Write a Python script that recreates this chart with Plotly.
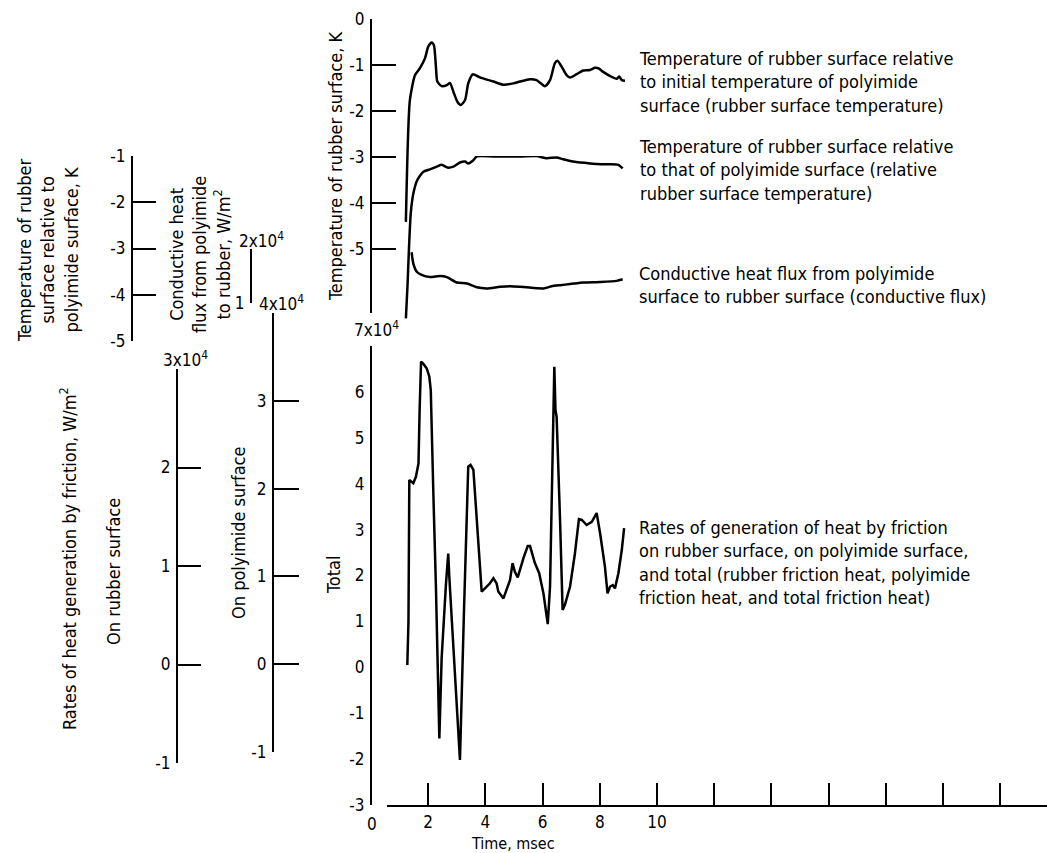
import plotly.graph_objects as go

W, H = 1047, 853

# ---------------- data ----------------
# Rubber surface temperature relative to initial polyimide temperature, K
t_rubber_temp = [1.22, 1.36, 1.54, 1.71, 1.89, 2.00, 2.12, 2.20, 2.27, 2.32, 2.47, 2.67, 2.76, 2.88,
                 3.02, 3.14, 3.29, 3.40, 3.56, 3.81, 4.28, 4.63, 4.98, 5.21, 5.56, 5.79, 6.08, 6.26,
                 6.43, 6.52, 6.67, 6.84, 6.96, 7.19, 7.42, 7.66, 7.83, 7.95, 8.12, 8.36, 8.59, 8.68,
                 8.77, 8.88]
rubber_temp = [-4.41, -1.76, -1.22, -1.07, -0.85, -0.60, -0.51, -0.57, -1.04, -1.36, -1.46, -1.43,
               -1.39, -1.58, -1.80, -1.87, -1.76, -1.40, -1.20, -1.27, -1.36, -1.43, -1.40, -1.36,
               -1.31, -1.33, -1.46, -1.33, -0.96, -0.91, -1.04, -1.22, -1.27, -1.20, -1.12, -1.11,
               -1.06, -1.07, -1.15, -1.24, -1.30, -1.25, -1.33, -1.34]

# Rubber surface temperature relative to polyimide surface, K
t_rel_temp = [1.22, 1.28, 1.33, 1.39, 1.48, 1.62, 1.83, 2.06, 2.30, 2.47, 2.67, 2.88, 3.11, 3.29,
              3.40, 3.58, 3.70, 4.28, 5.21, 5.79, 6.14, 6.49, 6.72, 7.07, 7.66, 8.24, 8.65, 8.80]
rel_temp = [-4.51, -3.75, -2.96, -2.24, -1.81, -1.52, -1.34, -1.29, -1.23, -1.19, -1.25, -1.23,
            -1.14, -1.12, -1.16, -1.09, -1.01, -1.01, -1.01, -1.00, -1.05, -1.03, -1.07, -1.12,
            -1.16, -1.18, -1.19, -1.27]

# Conductive heat flux from polyimide to rubber, 10^4 W/m^2
t_cond = [1.42, 1.48, 1.60, 1.77, 2.06, 2.41, 2.65, 3.00, 3.35, 3.70, 4.05, 4.51, 4.86, 5.21,
          5.44, 6.03, 6.32, 6.61, 6.96, 7.42, 8.01, 8.59, 8.80]
cond_flux = [1.94, 1.73, 1.58, 1.52, 1.48, 1.50, 1.48, 1.38, 1.36, 1.29, 1.27, 1.30, 1.31, 1.30,
             1.29, 1.27, 1.31, 1.33, 1.35, 1.38, 1.39, 1.41, 1.44]

# Total friction heat generation rate, 10^4 W/m^2
t_total = [1.27, 1.31, 1.34, 1.48, 1.57, 1.66, 1.70, 1.75, 1.82, 1.95, 2.04, 2.09, 2.18, 2.27,
           2.39, 2.47, 2.62, 2.70, 2.74, 3.11, 3.25, 3.40, 3.48, 3.58, 3.87, 4.05, 4.16, 4.28,
           4.39, 4.45, 4.63, 4.86, 4.95, 5.03, 5.13, 5.33, 5.48, 5.56, 5.73, 5.88, 6.03, 6.12,
           6.18, 6.26, 6.38, 6.41, 6.45, 6.49, 6.61, 6.70, 6.78, 6.96, 7.13, 7.27, 7.37, 7.54,
           7.72, 7.89, 8.01, 8.18, 8.27, 8.36, 8.45, 8.53, 8.65, 8.77, 8.85]
total_heat = [0.05, 1.00, 4.08, 4.01, 4.15, 4.44, 5.60, 6.66, 6.62, 6.51, 6.33, 6.04, 3.79, 1.76,
              -1.55, 0.20, 1.80, 2.48, 1.95, -2.02, 1.20, 4.37, 4.41, 4.30, 1.65, 1.76, 1.83, 1.94,
              1.83, 1.65, 1.50, 1.90, 2.27, 2.08, 1.96, 2.38, 2.64, 2.64, 2.27, 2.05, 1.61, 1.21,
              0.94, 1.76, 5.39, 6.55, 5.61, 5.46, 3.21, 1.25, 1.36, 1.76, 2.48, 3.23, 3.21, 3.10,
              3.17, 3.36, 2.92, 2.19, 1.61, 1.76, 1.79, 1.72, 2.05, 2.56, 3.03]

# ---------------- tick values / labels ----------------
time_ticks = [2, 4, 6, 8, 10]
time_tick_text = ["2", "4", "6", "8", "10"]
time_unlabeled_ticks = [12, 14, 16, 18, 20, 22]
temp_ticks = [0, -1, -2, -3, -4, -5]
temp_tick_text = ["0", "-1", "-2", "-3", "-4", "-5"]
rel_ticks = [-1, -2, -3, -4, -5]
rel_tick_text = ["-1", "-2", "-3", "-4", "-5"]
cond_ticks = [1]
cond_tick_text = ["1"]
cond_top = 2
rubber_fr_ticks = [-1, 0, 1, 2]
rubber_fr_tick_text = ["-1", "0", "1", "2"]
rubber_fr_top = 3
poly_fr_ticks = [-1, 0, 1, 2, 3]
poly_fr_tick_text = ["-1", "0", "1", "2", "3"]
poly_fr_top = 4
total_ticks = [-3, -2, -1, 0, 1, 2, 3, 4, 5, 6]
total_tick_text = ["-3", "-2", "-1", "0", "1", "2", "3", "4", "5", "6"]

FONT = "DejaVu Sans Condensed, Liberation Sans Narrow, DejaVu Sans"
FS = 18      # titles and curve descriptions
TFS = 17     # tick labels


def px(x):
    return x / W


def py(y):
    return 1 - y / H


def yax(top, bottom, lo, hi, xpos, tickvals, ticktext, ticks="inside", ticklen=23, top_tick=None):
    ax = dict(
        domain=[py(bottom), py(top)], range=[lo, hi], anchor="free", position=px(xpos),
        showline=True, linecolor="black", linewidth=2, showgrid=False, zeroline=False,
        ticks=ticks, ticklen=ticklen, tickwidth=2, tickcolor="black", automargin=False,
        tickmode="array", tickvals=tickvals, ticktext=ticktext,
        tickfont=dict(family=FONT, size=TFS, color="black"), ticklabelstandoff=2,
    )
    if top_tick is not None:
        ax["minor"] = dict(tickmode="array", tickvals=[top_tick], ticks="inside",
                           ticklen=ticklen, tickwidth=2, tickcolor="black", showgrid=False)
    return ax


fig = go.Figure()
line = dict(color="black", width=2.5)
fig.add_trace(go.Scatter(x=t_rubber_temp, y=rubber_temp, mode="lines",
                         line=dict(line, shape="spline", smoothing=0.6), xaxis="x", yaxis="y"))
fig.add_trace(go.Scatter(x=t_rel_temp, y=rel_temp, mode="lines",
                         line=dict(line, shape="spline", smoothing=0.6), xaxis="x", yaxis="y3"))
fig.add_trace(go.Scatter(x=t_cond, y=cond_flux, mode="lines",
                         line=dict(line, shape="spline", smoothing=0.6), xaxis="x", yaxis="y4"))
fig.add_trace(go.Scatter(x=t_total, y=total_heat, mode="lines", line=line,
                         xaxis="x", yaxis="y2"))
# scales for rubber and polyimide friction heat
fig.add_trace(go.Scatter(x=[], y=[], mode="lines", xaxis="x", yaxis="y5"))
fig.add_trace(go.Scatter(x=[], y=[], mode="lines", xaxis="x", yaxis="y6"))

t_per_px = 1 / 28.6
fig.update_layout(
    width=W, height=H, margin=dict(l=0, r=0, t=0, b=0, autoexpand=False),
    paper_bgcolor="white", plot_bgcolor="rgba(0,0,0,0)", showlegend=False,
    font=dict(family=FONT, size=FS, color="black"),
    xaxis=dict(domain=[px(387), 1], range=[(387 - 371) * t_per_px, (1047 - 371) * t_per_px],
               anchor="y2", showline=True, linecolor="black", linewidth=2, automargin=False,
               showgrid=False, zeroline=False, ticks="inside", ticklen=22, tickwidth=2,
               tickcolor="black", tickmode="array", tickvals=time_ticks, ticktext=time_tick_text,
               tickfont=dict(family=FONT, size=TFS, color="black"), ticklabelstandoff=1,
               minor=dict(tickmode="array", tickvals=time_unlabeled_ticks, ticks="inside",
                          ticklen=22, tickwidth=2, tickcolor="black", showgrid=False)),
    yaxis=yax(19, 313, -(313 - 19) / 46, 0, 371, temp_ticks, temp_tick_text, ticklen=24),
    yaxis2=yax(346, 805, -3, 7, 371, total_ticks, total_tick_text, ticks=""),
    yaxis3=yax(156, 341, -5, -1, 132, rel_ticks, rel_tick_text),
    yaxis4=yax(249, 303, 1, 2, 251, cond_ticks, cond_tick_text, top_tick=cond_top),
    yaxis5=yax(369, 763, -1, 3, 177, rubber_fr_ticks, rubber_fr_tick_text, top_tick=rubber_fr_top),
    yaxis6=yax(313, 752, -1, 4, 273, poly_fr_ticks, poly_fr_tick_text, ticklen=25,
               top_tick=poly_fr_top),
)


def note(text, x, y, angle=0, xanchor="center", align="center", size=FS):
    fig.add_annotation(text=text, x=px(x), y=py(y), xref="paper", yref="paper",
                       showarrow=False, textangle=angle, xanchor=xanchor, yanchor="middle",
                       align=align, borderpad=0, font=dict(family=FONT, size=size, color="black"))


# scale exponents at the top of each scale
note("3x10<sup>4</sup>", 185, 359, size=TFS)
note("4x10<sup>4</sup>", 281, 303, size=TFS)
note("2x10<sup>4</sup>", 261, 240, size=TFS)
note("7x10<sup>4</sup>", 376, 329, size=TFS)
note("0", 372, 824, size=TFS)
note("Time, msec", 513, 843, size=16)

# axis titles
note("Temperature of rubber<br>surface relative to<br>polyimide surface, K", 48, 250, angle=-90)
note("Conductive heat<br>flux from polyimide<br>to rubber, W/m<sup>2</sup>", 200, 255, angle=-90)
note("Temperature of rubber surface, K", 336, 167, angle=-90)
note("Rates of heat generation by friction, W/m<sup>2</sup>", 68, 559, angle=-90)
note("On rubber surface", 113, 572, angle=-90)
note("On polyimide surface", 238, 533, angle=-90)
note("Total", 333, 575, angle=-90)

# curve descriptions
note("Temperature of rubber surface relative<br>to initial temperature of polyimide<br>"
     "surface (rubber surface temperature)", 638, 82, xanchor="left", align="left")
note("Temperature of rubber surface relative<br>to that of polyimide surface (relative<br>"
     "rubber surface temperature)", 638, 170, xanchor="left", align="left")
note("Conductive heat flux from polyimide<br>surface to rubber surface (conductive flux)",
     638, 285, xanchor="left", align="left")
note("Rates of generation of heat by friction<br>on rubber surface, on polyimide surface,<br>"
     "and total (rubber friction heat, polyimide<br>friction heat, and total friction heat)",
     638, 562, xanchor="left", align="left")

fig.write_html("out.html")
